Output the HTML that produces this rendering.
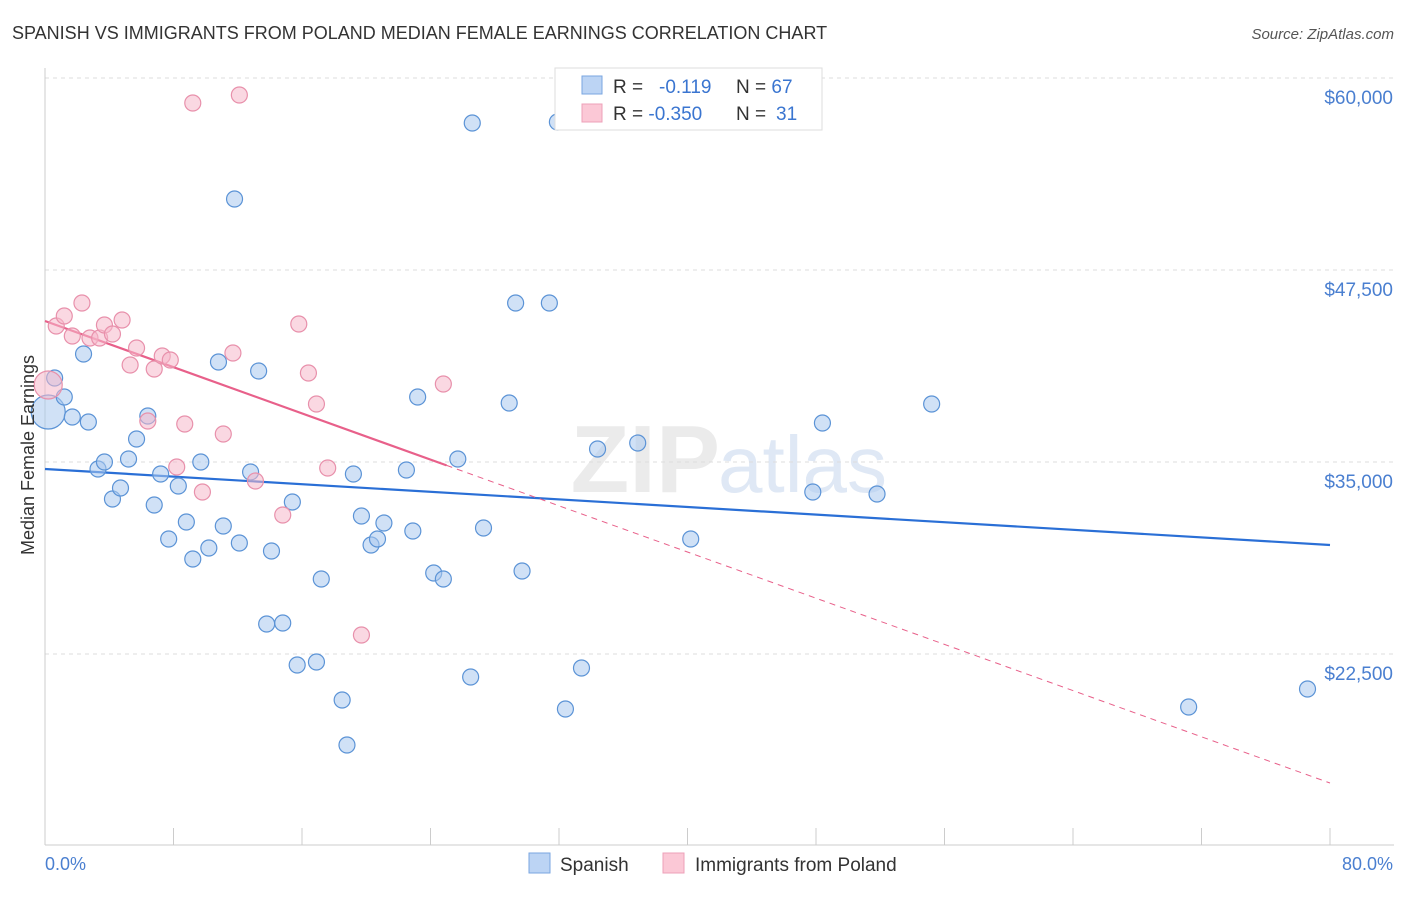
<!DOCTYPE html>
<html><head><meta charset="utf-8"><style>
body{margin:0;background:#fff;font-family:"Liberation Sans",sans-serif;}
svg text{font-family:"Liberation Sans",sans-serif;}
</style></head><body>
<svg id="chart" width="1406" height="892">
<text x="12" y="39" font-size="18" fill="#333">SPANISH VS IMMIGRANTS FROM POLAND MEDIAN FEMALE EARNINGS CORRELATION CHART</text>
<text x="1394" y="39" font-size="15" fill="#555" text-anchor="end" font-style="italic">Source: ZipAtlas.com</text>
<text x="720" y="492" font-size="96" fill="#ebebeb" text-anchor="end" font-family="Liberation Serif" font-weight="bold">ZIP</text>
<text x="718" y="492" font-size="80" fill="#dfe8f5">atlas</text>
<g id="grid"></g><g id="axes"></g><g id="trends"></g><g id="pts"></g>
<text transform="translate(34,455) rotate(-90)" font-size="18" fill="#333" text-anchor="middle">Median Female Earnings</text>
<text x="45" y="870" font-size="18" fill="#4a7fd0">0.0%</text>
<text x="1393" y="870" font-size="18" fill="#4a7fd0" text-anchor="end">80.0%</text>
<g>
<rect x="555" y="68" width="267" height="62" fill="#fff" stroke="#ddd"/>
<rect x="582" y="76" width="20" height="18" fill="#bcd4f4" stroke="#7aa6e0"/>
<rect x="582" y="104" width="20" height="18" fill="#fbc8d6" stroke="#eea0b8"/>
<text x="613" y="93" font-size="19" fill="#333" xml:space="preserve">R = <tspan fill="#3a75d0" x="659">-0.119</tspan><tspan x="736">N = </tspan><tspan fill="#3a75d0">67</tspan></text>
<text x="613" y="120" font-size="19" fill="#333">R = <tspan fill="#3a75d0">-0.350</tspan><tspan x="736">N = </tspan><tspan fill="#3a75d0" x="776">31</tspan></text>
</g>
<g>
<rect x="529" y="853" width="21" height="20" fill="#bcd4f4" stroke="#7aa6e0"/>
<text x="560" y="871" font-size="19" fill="#333">Spanish</text>
<rect x="663" y="853" width="21" height="20" fill="#fbc8d6" stroke="#eea0b8"/>
<text x="695" y="871" font-size="19" fill="#333">Immigrants from Poland</text>
</g>
</svg>
<script>
const yTicks=[60000,47500,35000,22500];
const yTickLabels=["$60,000","$47,500","$35,000","$22,500"];
const xTicks=[0,8,16,24,32,40,48,56,64,72,80];
const spanishX=[0.2,0.6,1.2,1.7,2.4,2.7,3.3,3.7,4.2,4.7,5.2,5.7,6.4,6.8,7.2,7.7,8.3,8.8,9.2,9.7,10.2,10.8,11.1,11.8,12.1,12.8,13.3,13.8,14.1,14.8,15.4,15.7,16.9,17.2,18.5,18.8,19.2,19.7,20.3,20.7,21.1,22.5,22.9,23.2,24.2,24.8,25.7,26.5,26.6,27.3,28.9,29.3,29.7,31.4,31.9,32.4,33.4,34.4,36.9,40.2,47.8,48.4,51.8,55.2,71.2,78.6];
const spanishY=[38257,40470,39233,37930,42032,37606,34546,35002,32593,33309,35197,36499,37996,32202,34220,29989,33439,31096,28687,35002,29403,41512,30835,52123,29728,34351,40926,24455,29208,24520,32398,21787,21982,27385,19508,16579,34220,31486,29598,29989,31031,34481,30510,39233,27775,27385,35197,21006,57071,30705,38843,45353,27906,45353,57136,18922,21591,35848,36238,29989,33049,37541,32918,38778,19052,20224];
const polandX=[0.2,0.7,1.2,1.7,2.3,2.8,3.4,3.7,4.2,4.8,5.3,5.7,6.4,6.8,7.3,7.8,8.2,8.7,9.2,9.8,11.1,11.7,12.1,13.1,14.8,15.8,16.4,16.9,17.6,19.7,24.8];
const polandY=[40014,43855,44506,43204,45353,43074,43074,43920,43334,44246,41316,42423,37671,41056,41902,41642,34676,37475,58373,33049,36824,42098,58893,33765,31551,43985,40796,38778,34611,23739,40080];
const spanishTrend=[34546,29598];
const polandTrend=[44181,14104];
const polandSolidEnd=25;
const ns="http://www.w3.org/2000/svg";
const X=p=>45+p*(1285/80);
const Y=v=>78+(60000-v)/65.1;
function mk(t,a,parent){const e=document.createElementNS(ns,t);for(const k in a)e.setAttribute(k,a[k]);document.getElementById(parent).appendChild(e);return e;}
yTicks.forEach((v,i)=>{
 const l=mk('line',{x1:45,x2:1394,y1:Y(v),y2:Y(v),stroke:'#ddd','stroke-dasharray':'4,4'},'grid');
 
 
 const t=mk('text',{x:1393,y:Y(v)+26,'font-size':19,fill:'#4a7fd0','text-anchor':'end'},'grid');
 t.textContent=yTickLabels[i];
 
 
});
const ax=mk('line',{x1:45,x2:45,y1:68,y2:845,stroke:'#ccc'},'axes');


const bx=mk('line',{x1:45,x2:1394,y1:845,y2:845,stroke:'#ccc'},'axes');


xTicks.forEach(p=>{
 const l=mk('line',{x1:X(p),x2:X(p),y1:828,y2:845,stroke:'#ccc'},'axes');
 
 
});
const bt=mk('line',{x1:X(0),y1:Y(spanishTrend[0]),x2:X(80),y2:Y(spanishTrend[1]),stroke:'#2a6fd6','stroke-width':2.2},'trends');


const pv=p=>polandTrend[0]+(polandTrend[1]-polandTrend[0])*p/80;
const pt=mk('line',{x1:X(0),y1:Y(pv(0)),x2:X(polandSolidEnd),y2:Y(pv(polandSolidEnd)),stroke:'#e8608a','stroke-width':2.2},'trends');


const pd=mk('line',{x1:X(polandSolidEnd),y1:Y(pv(polandSolidEnd)),x2:X(80),y2:Y(pv(80)),stroke:'#e8608a','stroke-width':1,'stroke-dasharray':'6,5'},'trends');


spanishX.forEach((x,i)=>{
 const c=mk('circle',{cx:X(x),cy:Y(spanishY[i]),r:i==0?17:8,fill:'rgba(169,200,239,0.55)',stroke:'#5b93d6','stroke-width':1.2},'pts');
 
 
});
polandX.forEach((x,i)=>{
 const c=mk('circle',{cx:X(x),cy:Y(polandY[i]),r:i==0?14:8,fill:'rgba(245,184,203,0.55)',stroke:'#e890ab','stroke-width':1.2},'pts');
 
 
});
</script>
</body></html>
